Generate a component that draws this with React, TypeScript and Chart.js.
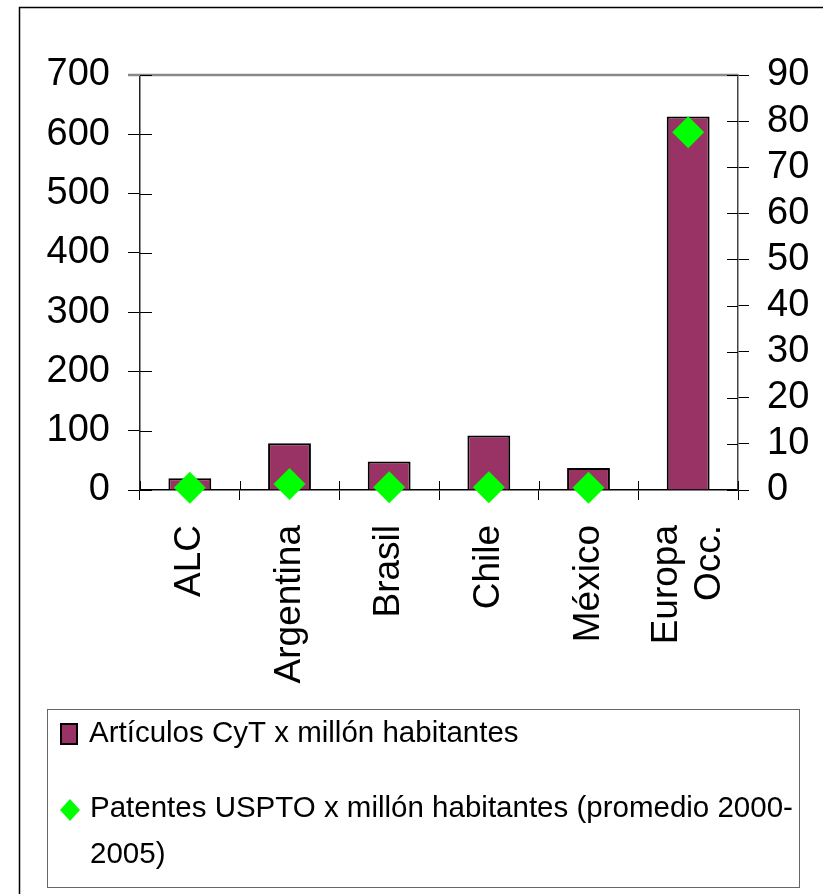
import { useEffect, useRef } from 'react';
import { Chart, registerables } from 'chart.js';

Chart.register(...registerables);

// ---- data ----
const CATEGORIES: (string | string[])[] = ['ALC', 'Argentina', 'Brasil', 'Chile', 'México', ['Europa', 'Occ.']];
const ARTICULOS = [20, 79, 48, 92, 37, 630];
const PATENTES = [0.5, 1.3, 0.6, 0.6, 0.5, 77.6];
const SERIES_LABELS = [
  'Artículos CyT x millón habitantes',
  'Patentes USPTO x millón habitantes (promedio 2000-2005)',
];
const LEFT_MIN = 0;
const LEFT_MAX = 700;
const LEFT_STEP = 100;
const RIGHT_MIN = 0;
const RIGHT_MAX = 90;
const RIGHT_STEP = 10;

// ---- styles ----
const BAR_COLOR = '#993366';
const POINT_COLOR = '#00ff00';
const SANS = "'Liberation Sans', Arial, sans-serif";
const X_FONT_SIZE = 37;
const X_LINE_HEIGHT = 1.15;

function wrapText(ctx: CanvasRenderingContext2D, text: string, maxWidth: number): string[] {
  const tokens = text.match(/[^\s-]+-?|-|\s+/g) || [];
  const lines: string[] = [];
  let cur = '';
  for (const tok of tokens) {
    const test = cur + tok;
    if (cur.trim() !== '' && ctx.measureText(test.trimEnd()).width > maxWidth && tok.trim() !== '') {
      lines.push(cur.trimEnd());
      cur = tok;
    } else {
      cur = test;
    }
  }
  if (cur.trim() !== '') lines.push(cur.trimEnd());
  return lines;
}

const al = (v: number) => Math.round(v) + 0.5;

const decorPlugin = {
  id: 'decor',
  beforeDraw(chart: any) {
    const { ctx, width, height } = chart;
    ctx.save();
    ctx.strokeStyle = '#000';
    ctx.lineWidth = 1.5;
    ctx.beginPath();
    ctx.moveTo(19.5, height);
    ctx.lineTo(19.5, 7.5);
    ctx.lineTo(width, 7.5);
    ctx.stroke();
    ctx.restore();
    // centre multi-line rotated category labels on their tick
    const x = chart.scales.x;
    const items = x.getLabelItems(chart.chartArea);
    const lh = X_FONT_SIZE * X_LINE_HEIGHT;
    items.forEach((it: any) => {
      if (Array.isArray(it.label) && it.label.length > 1) {
        if (it._origOffset === undefined) it._origOffset = it.textOffset;
        it.textOffset = it._origOffset - ((it.label.length - 1) * lh) / 2;
      }
    });
  },
  beforeDatasetsDraw(chart: any) {
    const { ctx, chartArea, scales } = chart;
    ctx.save();
    // top frame line of plot area
    ctx.strokeStyle = '#888';
    ctx.lineWidth = 2.5;
    ctx.beginPath();
    ctx.moveTo(chartArea.left - 12, chartArea.top);
    ctx.lineTo(chartArea.right, chartArea.top);
    ctx.stroke();
    // inner halves of the crossing tick marks
    ctx.strokeStyle = '#000';
    ctx.lineWidth = 1;
    ctx.beginPath();
    const y = scales.y;
    y.ticks.forEach((_t: any, i: number) => {
      const py = al(y.getPixelForTick(i));
      ctx.moveTo(chartArea.left, py);
      ctx.lineTo(chartArea.left + 12, py);
    });
    const y1 = scales.y1;
    y1.ticks.forEach((_t: any, i: number) => {
      const py = al(y1.getPixelForTick(i));
      ctx.moveTo(chartArea.right - 11, py);
      ctx.lineTo(chartArea.right, py);
    });
    const x = scales.x;
    for (let i = 0; i <= CATEGORIES.length; i++) {
      const px = al(x.getPixelForValue(i - 0.5));
      ctx.moveTo(px, chartArea.bottom - 9);
      ctx.lineTo(px, chartArea.bottom);
    }
    ctx.stroke();
    ctx.restore();
  },
  afterDraw(chart: any) {
    const { ctx } = chart;
    ctx.save();
    // legend box
    const bx = 47, by = 709, bw = 752, bh = 178;
    ctx.strokeStyle = '#666';
    ctx.lineWidth = 1;
    ctx.strokeRect(bx + 0.5, by + 0.5, bw, bh);

    ctx.font = `29.5px ${SANS}`;
    ctx.fillStyle = '#000';
    ctx.textBaseline = 'alphabetic';
    ctx.textAlign = 'left';

    // item 1: bar
    ctx.fillStyle = BAR_COLOR;
    ctx.fillRect(61, 724, 16, 20);
    ctx.strokeStyle = '#000';
    ctx.lineWidth = 2;
    ctx.strokeRect(61, 724, 16, 20);
    ctx.fillStyle = '#000';
    ctx.fillText(SERIES_LABELS[0], 89, 742);

    // item 2: diamond
    ctx.fillStyle = POINT_COLOR;
    ctx.beginPath();
    ctx.moveTo(70, 799);
    ctx.lineTo(80, 810);
    ctx.lineTo(70, 821);
    ctx.lineTo(60, 810);
    ctx.closePath();
    ctx.fill();
    ctx.fillStyle = '#000';
    const lines = wrapText(ctx, SERIES_LABELS[1], bx + bw - 90 - 1);
    lines.forEach((ln, i) => ctx.fillText(ln, 90, 817 + i * 46));
    ctx.restore();
  },
};

export default function App() {
  const ref = useRef<HTMLCanvasElement | null>(null);
  useEffect(() => {
    if (!ref.current) return;
    const chart = new Chart(ref.current, {
      data: {
        labels: CATEGORIES as any,
        datasets: [
          {
            type: 'line',
            label: SERIES_LABELS[1],
            data: PATENTES,
            yAxisID: 'y1',
            showLine: false,
            pointStyle: 'rectRot',
            pointRadius: 16,
            pointHoverRadius: 16,
            pointBackgroundColor: POINT_COLOR,
            pointBorderColor: POINT_COLOR,
            pointBorderWidth: 0,
            borderWidth: 0,
            clip: false as any,
            order: 0,
          } as any,
          {
            type: 'bar',
            label: SERIES_LABELS[0],
            data: ARTICULOS,
            yAxisID: 'y',
            backgroundColor: BAR_COLOR,
            borderColor: '#000',
            borderWidth: 2,
            barPercentage: 0.43,
            categoryPercentage: 1,
            order: 1,
          } as any,
        ],
      },
      options: {
        animation: false,
        responsive: true,
        maintainAspectRatio: false,
        layout: { padding: { top: 75, left: 0, right: 0, bottom: 0 } },
        plugins: {
          legend: { display: false },
          tooltip: { enabled: false },
          title: { display: false },
        },
        scales: {
          x: {
            type: 'category',
            offset: true,
            grid: { offset: true, drawOnChartArea: false, drawTicks: true, tickLength: 10, color: '#000', lineWidth: 1 },
            border: { display: true, color: '#000', width: 1.5 },
            ticks: {
              autoSkip: false,
              maxRotation: 90,
              minRotation: 90,
              padding: 25,
              color: '#000',
              font: { family: SANS, size: X_FONT_SIZE, lineHeight: X_LINE_HEIGHT },
            },
            afterFit(s: any) {
              s.height = 404;
            },
          },
          y: {
            type: 'linear',
            position: 'left',
            min: LEFT_MIN,
            max: LEFT_MAX,
            ticks: { stepSize: LEFT_STEP, autoSkip: false, padding: 18, color: '#000', font: { family: SANS, size: 38 } },
            grid: { drawOnChartArea: false, tickLength: 12, color: '#000', lineWidth: 1 },
            border: { color: '#222', width: 1.5 },
            afterFit(s: any) {
              s.width = 140;
            },
          },
          y1: {
            type: 'linear',
            position: 'right',
            min: RIGHT_MIN,
            max: RIGHT_MAX,
            ticks: { stepSize: RIGHT_STEP, autoSkip: false, padding: 18, color: '#000', font: { family: SANS, size: 38 } },
            grid: { drawOnChartArea: false, tickLength: 11, color: '#000', lineWidth: 1 },
            border: { color: '#444', width: 1.5 },
            afterFit(s: any) {
              s.width = 85;
            },
          },
        },
      } as any,
      plugins: [decorPlugin],
    });
    return () => chart.destroy();
  }, []);

  return (
    <div style={{ position: 'absolute', left: 0, top: 0, width: 823, height: 894, background: '#fff' }}>
      <canvas ref={ref} role="img" aria-label="Artículos CyT y patentes USPTO por millón de habitantes" />
    </div>
  );
}
